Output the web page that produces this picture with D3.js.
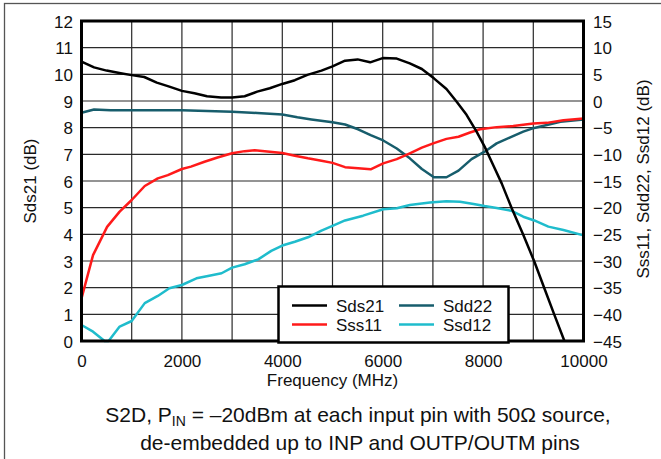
<!DOCTYPE html>
<html><head><meta charset="utf-8">
<script src="https://cdn.jsdelivr.net/npm/d3@7"></script>
<style>
body{margin:0;background:#fff;}
svg{display:block;font-family:"Liberation Sans",Arial,sans-serif;}
</style></head><body>
<svg id="c" width="661" height="459"></svg>
<script>
// ---- data ----
const xTicks = [0, 2000, 4000, 6000, 8000, 10000];
const leftTicks = [0,1,2,3,4,5,6,7,8,9,10,11,12];
const rightTicks = [-45,-40,-35,-30,-25,-20,-15,-10,-5,0,5,10,15];
const seriesNames = ["Sds21", "Sss11", "Sdd22", "Ssd12"];
const seriesColors = ["#000000", "#ff1a1a", "#175d6c", "#1fbccc"];

const sds21F = [0,250,500,780,1000,1250,1500,1750,2000,2250,2500,2780,3000,3250,3500,3750,4000,4250,4500,4780,5000,5250,5500,5750,6000,6280,6540,6780,7020,7270,7470,7670,7870,8030,8200,8370,8570,8800,9020,9220,9420,9620];
const sds21V = [10.48,10.26,10.14,10.04,9.97,9.9,9.69,9.54,9.38,9.29,9.18,9.13,9.13,9.18,9.35,9.48,9.64,9.78,9.98,10.14,10.3,10.51,10.56,10.45,10.61,10.59,10.41,10.2,9.85,9.45,8.98,8.48,7.85,7.29,6.6,5.91,4.98,3.98,2.98,1.98,0.98,0.0];

const sss11F = [0,230,510,760,1000,1260,1520,1720,2000,2180,2450,2710,3000,3250,3450,3750,4000,4250,4510,4780,5000,5250,5510,5760,6010,6280,6540,6780,7020,7270,7510,7740,7940,8270,8600,9000,9270,9600,10000];
const sss11V = [-37.0,-28.9,-23.6,-20.75,-18.56,-15.94,-14.5,-13.9,-12.75,-12.3,-11.4,-10.6,-9.8,-9.4,-9.25,-9.5,-9.75,-10.25,-10.75,-11.2,-11.6,-12.4,-12.6,-12.8,-11.7,-10.9,-9.8,-8.75,-7.9,-7.1,-6.7,-5.9,-5.3,-4.9,-4.7,-4.2,-4.1,-3.6,-3.3];

const sdd22F = [0,250,580,1000,2000,3000,3500,4000,4300,4580,5000,5250,5510,5760,6010,6280,6540,6780,7020,7270,7510,7770,8030,8270,8540,8800,9020,9270,9540,10000];
const sdd22V = [-2.2,-1.6,-1.75,-1.75,-1.75,-2.0,-2.25,-2.55,-3.05,-3.45,-4.0,-4.4,-5.3,-6.4,-7.4,-8.9,-10.75,-12.75,-14.3,-14.3,-13.05,-10.9,-9.5,-7.95,-6.8,-5.75,-5.05,-4.5,-3.9,-3.45];

const ssd12F = [0,230,460,540,760,1000,1260,1520,1750,2000,2290,2520,2790,3000,3250,3520,3780,4000,4250,4510,4780,5000,5250,5610,6010,6280,6540,6940,7270,7540,7810,8030,8270,8570,8800,9020,9300,9600,10000];
const ssd12V = [-42.0,-43.25,-45,-45,-42.3,-41.25,-37.9,-36.55,-35.1,-34.5,-33.25,-32.8,-32.3,-31.25,-30.6,-29.7,-28.1,-27.1,-26.4,-25.55,-24.3,-23.4,-22.4,-21.5,-20.3,-20.1,-19.5,-19.05,-18.8,-18.9,-19.3,-19.7,-20.05,-20.6,-21.7,-22.4,-23.55,-24.2,-25.2];

// ---- layout ----
const svg = d3.select("#c");
const L = 81.5, R = 583.5, T = 21, B = 341;
const x = d3.scaleLinear().domain([0, 10000]).range([L, R]);
const yL = d3.scaleLinear().domain([0, 12]).range([B, T]);
const yR = d3.scaleLinear().domain([-45, 15]).range([B, T]);

// outer frame
svg.append("rect").attr("x", 4.5).attr("y", 3.5).attr("width", 700).attr("height", 500)
  .attr("fill", "none").attr("stroke", "#555").attr("stroke-width", 1.3);

// grid
const g = svg.append("g");
d3.range(0, 10001, 1000).forEach(f => {
  g.append("line").attr("x1", x(f)).attr("x2", x(f)).attr("y1", T).attr("y2", B)
    .attr("stroke", "#2a2a2a").attr("stroke-width", 1.2);
});
leftTicks.forEach(v => {
  g.append("line").attr("x1", L).attr("x2", R).attr("y1", yL(v)).attr("y2", yL(v))
    .attr("stroke", "#2a2a2a").attr("stroke-width", 1.2);
});

// axes ticks labels via d3 axes
const fs = 17;
const axB = svg.append("g").attr("transform", `translate(0,${B})`)
  .call(d3.axisBottom(x).tickValues(xTicks).tickSize(0).tickPadding(20).tickFormat(d3.format("d")));
const axL = svg.append("g").attr("transform", `translate(${L},0)`)
  .call(d3.axisLeft(yL).tickValues(leftTicks).tickSize(0).tickPadding(8.5).tickFormat(d3.format("d")));
const axR = svg.append("g").attr("transform", `translate(${R},0)`)
  .call(d3.axisRight(yR).tickValues(rightTicks).tickSize(0).tickPadding(9.5).tickFormat(d3.format("d")));
[axB, axL, axR].forEach(a => {
  a.select(".domain").remove();
  a.selectAll("text").attr("font-size", fs).attr("fill", "#111")
    .attr("font-family", '"Liberation Sans",Arial,sans-serif');
});
axB.selectAll("text").attr("dy", null).attr("y", 26);
axL.selectAll("text").attr("dy", "0.36em");
axR.selectAll("text").attr("dy", "0.36em");

// series lines
const line = d3.line().curve(d3.curveLinear);
const seriesData = [
  {f: sds21F, v: sds21V, y: yL},
  {f: sss11F, v: sss11V, y: yR},
  {f: sdd22F, v: sdd22V, y: yR},
  {f: ssd12F, v: ssd12V, y: yR}
];
const drawOrder = [3, 2, 1, 0];
drawOrder.forEach(i => {
  const s = seriesData[i];
  const pts = s.f.map((f, k) => [x(f), s.y(s.v[k])]);
  svg.append("path").attr("d", line(pts)).attr("fill", "none")
    .attr("stroke", seriesColors[i]).attr("stroke-width", 2.5)
    .attr("stroke-linejoin", "round").attr("stroke-linecap", "butt");
});

// plot frame
svg.append("rect").attr("x", L).attr("y", T).attr("width", R - L).attr("height", B - T)
  .attr("fill", "none").attr("stroke", "#000").attr("stroke-width", 3);

// axis titles
svg.append("text").attr("x", (L + R) / 2).attr("y", 386).attr("text-anchor", "middle")
  .attr("font-size", fs).attr("fill", "#111").text("Frequency (MHz)");
svg.append("text").attr("transform", `translate(36,${(T + B) / 2}) rotate(-90)`)
  .attr("text-anchor", "middle").attr("font-size", fs).attr("fill", "#111").text("Sds21 (dB)");
svg.append("text").attr("transform", `translate(649,${(T + B) / 2 - 2}) rotate(-90)`)
  .attr("text-anchor", "middle").attr("font-size", fs).attr("fill", "#111").text("Sss11, Sdd22, Ssd12 (dB)");

// legend
const lg = svg.append("g");
lg.append("rect").attr("x", 278.5).attr("y", 286.5).attr("width", 230).attr("height", 56)
  .attr("fill", "#fff").attr("stroke", "#000").attr("stroke-width", 2.5);
const legPos = [[292, 305.5], [292, 324.5], [399, 305.5], [399, 324.5]];
seriesNames.forEach((n, i) => {
  const [lx, ly] = legPos[i];
  lg.append("line").attr("x1", lx).attr("x2", lx + 35).attr("y1", ly).attr("y2", ly)
    .attr("stroke", seriesColors[i]).attr("stroke-width", 2.5);
  lg.append("text").attr("x", lx + 44).attr("y", ly + 6).attr("font-size", fs)
    .attr("fill", "#111").text(n);
});

// caption
const cap1 = svg.append("text").attr("x", 358).attr("y", 421.5).attr("text-anchor", "middle")
  .attr("font-size", 21).attr("fill", "#111");
cap1.append("tspan").text("S2D, P");
cap1.append("tspan").attr("font-size", 14).attr("dy", 4).text("IN");
cap1.append("tspan").attr("dy", -4).text(" = \u201320dBm at each input pin with 50\u03A9 source,");
svg.append("text").attr("x", 360).attr("y", 450).attr("text-anchor", "middle")
  .attr("font-size", 21).attr("fill", "#111").text("de-embedded up to INP and OUTP/OUTM pins");
</script>
</body></html>
